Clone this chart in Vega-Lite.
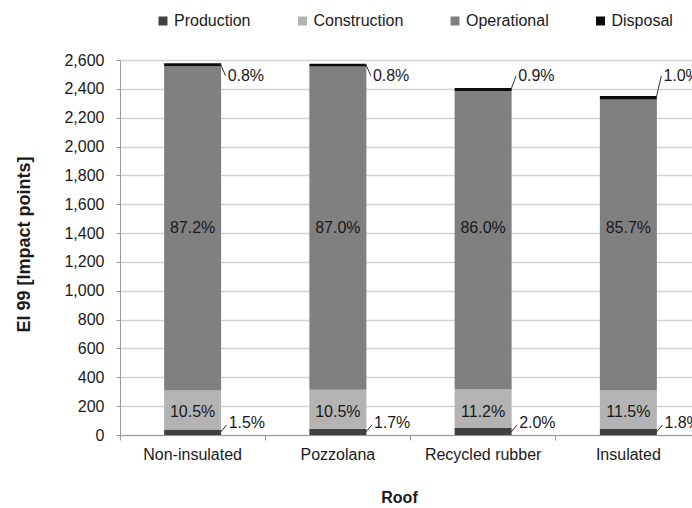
{
  "$schema": "https://vega.github.io/schema/vega-lite/v6.json",
  "width": 572,
  "height": 375,
  "autosize": "none",
  "padding": {"left": 120, "top": 60, "right": 0, "bottom": 73},
  "background": "white",
  "config": {
    "font": "Liberation Sans",
    "view": {"stroke": null},
    "text": {"font": "Liberation Sans"},
    "axisY": {"labelOverlap": false, "tickCount": 14}
  },
  "data": {
    "values": [
      {"roof": "Non-insulated", "stage": "Production", "order": 1, "value": 38.7, "pct": "1.5%"},
      {"roof": "Non-insulated", "stage": "Construction", "order": 2, "value": 270.6, "pct": "10.5%"},
      {"roof": "Non-insulated", "stage": "Operational", "order": 3, "value": 2247, "pct": "87.2%"},
      {"roof": "Non-insulated", "stage": "Disposal", "order": 4, "value": 20.6, "pct": "0.8%"},
      {"roof": "Pozzolana", "stage": "Production", "order": 1, "value": 43.8, "pct": "1.7%"},
      {"roof": "Pozzolana", "stage": "Construction", "order": 2, "value": 270.4, "pct": "10.5%"},
      {"roof": "Pozzolana", "stage": "Operational", "order": 3, "value": 2240, "pct": "87.0%"},
      {"roof": "Pozzolana", "stage": "Disposal", "order": 4, "value": 20.6, "pct": "0.8%"},
      {"roof": "Recycled rubber", "stage": "Production", "order": 1, "value": 48.1, "pct": "2.0%"},
      {"roof": "Recycled rubber", "stage": "Construction", "order": 2, "value": 269.2, "pct": "11.2%"},
      {"roof": "Recycled rubber", "stage": "Operational", "order": 3, "value": 2067, "pct": "86.0%"},
      {"roof": "Recycled rubber", "stage": "Disposal", "order": 4, "value": 21.6, "pct": "0.9%"},
      {"roof": "Insulated", "stage": "Production", "order": 1, "value": 42.3, "pct": "1.8%"},
      {"roof": "Insulated", "stage": "Construction", "order": 2, "value": 270.3, "pct": "11.5%"},
      {"roof": "Insulated", "stage": "Operational", "order": 3, "value": 2014, "pct": "85.7%"},
      {"roof": "Insulated", "stage": "Disposal", "order": 4, "value": 23.5, "pct": "1.0%"}
    ]
  },
  "encoding": {
    "x": {
      "field": "roof",
      "type": "nominal",
      "sort": ["Non-insulated", "Pozzolana", "Recycled rubber", "Insulated"],
      "scale": {"range": [0, 581], "paddingInner": 0, "paddingOuter": 0},
      "axis": {
        "title": "Roof",
        "labelAngle": 0,
        "bandPosition": 0,
        "tickSize": 5,
        "tickColor": "#999999",
        "domainColor": "#999999",
        "labelFontSize": 16,
        "labelColor": "#1a1a1a",
        "labelPadding": 6,
        "titleFontSize": 16,
        "titleFontWeight": "bold",
        "titleColor": "#1a1a1a",
        "titleX": 279,
        "titleY": 62,
        "titleBaseline": "middle",
        "grid": false
      }
    }
  },
  "layer": [
    {
      "mark": {"type": "bar", "width": 57},
      "encoding": {
        "y": {
          "field": "value",
          "type": "quantitative",
          "stack": "zero",
          "scale": {"domain": [0, 2600], "nice": false},
          "axis": {
            "title": "EI 99 [Impact points]",
            "values": [0, 200, 400, 600, 800, 1000, 1200, 1400, 1600, 1800, 2000, 2200, 2400, 2600],
            "tickCount": 14,
            "labelOverlap": false,
            "format": ",d",
            "grid": true,
            "gridColor": "#d3d3d3",
            "gridWidth": 1.5,
            "domainColor": "#999999",
            "tickColor": "#999999",
            "tickSize": 4,
            "labelFontSize": 16,
            "labelColor": "#1a1a1a",
            "labelPadding": 12,
            "titleFontSize": 18,
            "titleFontWeight": "bold",
            "titleColor": "#1a1a1a",
            "titleX": -96,
            "titleY": 184,
            "titleAngle": -90,
            "titleAlign": "center",
            "titleBaseline": "middle"
          }
        },
        "color": {
          "field": "stage",
          "type": "nominal",
          "scale": {
            "domain": ["Production", "Construction", "Operational", "Disposal"],
            "range": ["#404040", "#b3b3b3", "#808080", "#0d0d0d"]
          },
          "legend": {
            "title": null,
            "orient": "none",
            "legendX": 35,
            "legendY": -47,
            "direction": "horizontal",
            "symbolType": "square",
            "symbolSize": 81,
            "symbolStrokeWidth": 0,
            "labelFontSize": 16,
            "labelColor": "#1a1a1a",
            "labelOffset": 3,
            "columnPadding": 43.5,
            "padding": 0
          }
        },
        "order": {"field": "order", "type": "quantitative"}
      }
    },
    {
      "transform": [{"filter": "datum.stage === 'Operational'"}],
      "mark": {"type": "text", "fontSize": 16, "color": "#1a1a1a", "baseline": "middle"},
      "encoding": {"y": {"datum": 1435, "type": "quantitative"}, "text": {"field": "pct"}}
    },
    {
      "transform": [{"filter": "datum.stage === 'Construction'"}],
      "mark": {"type": "text", "fontSize": 16, "color": "#1a1a1a", "baseline": "middle"},
      "encoding": {"y": {"datum": 160, "type": "quantitative"}, "text": {"field": "pct"}}
    },
    {
      "transform": [{"filter": "datum.stage === 'Production'"}],
      "mark": {"type": "text", "fontSize": 16, "color": "#1a1a1a", "baseline": "middle", "align": "left", "dx": 36},
      "encoding": {"y": {"datum": 83, "type": "quantitative"}, "text": {"field": "pct"}}
    },
    {
      "transform": [{"filter": "datum.stage === 'Disposal'"}],
      "mark": {"type": "text", "fontSize": 16, "color": "#1a1a1a", "baseline": "middle", "align": "left", "dx": 35},
      "encoding": {"y": {"datum": 2492, "type": "quantitative"}, "text": {"field": "pct"}}
    },
    {
      "transform": [{"filter": "datum.stage === 'Production'"}],
      "mark": {"type": "rule", "color": "#333333", "strokeWidth": 1, "xOffset": 28, "x2Offset": 34},
      "encoding": {
        "x2": {"field": "roof"},
        "y": {"datum": 20, "type": "quantitative"},
        "y2": {"datum": 70}
      }
    },
    {
      "mark": {"type": "rule", "color": "#333333", "strokeWidth": 1, "xOffset": 28, "x2Offset": 33, "yOffset": 1},
      "encoding": {
        "x2": {"field": "roof"},
        "y": {"aggregate": "sum", "field": "value", "type": "quantitative"},
        "y2": {"datum": 2490}
      }
    }
  ]
}
